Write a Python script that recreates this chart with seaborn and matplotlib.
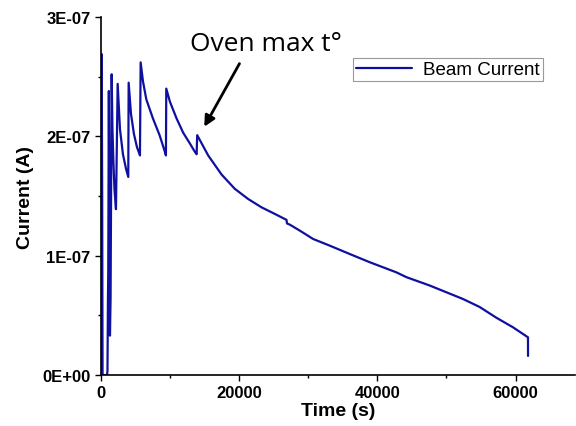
import numpy as np
import pandas as pd
import seaborn as sns
import matplotlib.pyplot as plt
from matplotlib.ticker import MultipleLocator, FuncFormatter

# beam current vs time (current in units of 1e-7 A)
time_s = [40, 100, 175, 230, 870, 940, 1010, 1055, 1140, 1230, 1300, 1390, 1545,
          1660, 1810, 1950, 2170, 2415, 2750, 3180, 3615, 3950, 4005, 4340, 4770,
          5205, 5640, 5740, 6080, 6560, 7520, 8480, 9200, 9400, 9450, 9980, 10940,
          11900, 12870, 13590, 13840, 13925, 15515, 17450, 19375, 21300, 23240,
          25160, 26850, 26920, 27330, 28775, 30700, 33110, 36000, 38900, 42760,
          44200, 47570, 52390, 54800, 57220, 59620, 61790, 61800]
current_e7 = [0.0, 2.69, 1.48, 0.0, 0.0, 0.03, 0.64, 0.86, 2.38, 1.06, 0.33, 0.64, 2.52,
              2.06, 1.77, 1.56, 1.39, 2.44, 2.06, 1.85, 1.73, 1.66, 2.45, 2.19, 2.02,
              1.91, 1.84, 2.62, 2.46, 2.31, 2.15, 2.01, 1.88, 1.84, 2.40, 2.29, 2.15,
              2.03, 1.94, 1.87, 1.85, 2.01, 1.84, 1.68, 1.56, 1.475, 1.405,
              1.35, 1.30, 1.27, 1.26, 1.21, 1.14, 1.084, 1.014, 0.945, 0.86,
              0.82, 0.75, 0.637, 0.57, 0.48, 0.40, 0.316, 0.16]

df = pd.DataFrame({'Time (s)': time_s, 'Current (A)': np.array(current_e7) * 1e-7})

sns.set_style('ticks')
plt.rcParams['font.family'] = ['Liberation Sans', 'DejaVu Sans']
plt.rcParams['text.color'] = 'black'
plt.rcParams['axes.labelcolor'] = 'black'
plt.rcParams['xtick.color'] = 'black'
plt.rcParams['ytick.color'] = 'black'

fig = plt.figure(figsize=(5.76, 4.27), dpi=100)
ax = fig.add_axes([0.1753, 0.1194, 0.8230, 0.8384])

sns.lineplot(data=df, x='Time (s)', y='Current (A)', sort=False, estimator=None,
             color='#1010a0', linewidth=1.6, label='Beam Current', ax=ax)

ax.set_xlim(0, 68600)
ax.set_ylim(0, 3e-7)
ax.xaxis.set_major_locator(MultipleLocator(20000))
ax.xaxis.set_minor_locator(MultipleLocator(10000))
ax.yaxis.set_major_locator(MultipleLocator(1e-7))
ax.yaxis.set_minor_locator(MultipleLocator(0.5e-7))
ax.yaxis.set_major_formatter(FuncFormatter(lambda v, p: f'{v:.0E}'))
ax.tick_params(which='major', length=4, width=1, direction='out')
ax.tick_params(which='minor', length=2.5, width=1, direction='out')
for lab in ax.get_xticklabels() + ax.get_yticklabels():
    lab.set_fontsize(12)
    lab.set_fontweight('bold')

ax.set_xlabel('Time (s)', fontsize=14, fontweight='bold', labelpad=1)
ax.set_ylabel('Current (A)', fontsize=14, fontweight='bold', labelpad=6)
sns.despine(ax=ax)
for s in ['left', 'bottom']:
    ax.spines[s].set_linewidth(1.2)
    ax.spines[s].set_color('black')

leg = ax.legend(loc='upper right', bbox_to_anchor=(0.932, 0.885), fontsize=13.5,
                frameon=True, fancybox=False, handlelength=3.0, borderpad=0.15,
                handletextpad=0.6, borderaxespad=0)
leg.get_frame().set_edgecolor('#808080')
leg.get_frame().set_linewidth(0.8)

# annotation pointing at the oven max temperature kink
ax.annotate('', xy=(14750, 2.06e-7), xytext=(20240, 2.63e-7),
            arrowprops=dict(arrowstyle='-|>', color='black', lw=2, mutation_scale=16))
ax.text(12870, 2.72e-7, 'Oven max t°', fontsize=19, family=['Open Sans', 'DejaVu Sans'],
        ha='left', va='baseline')

fig.savefig('out.png', dpi=100)
